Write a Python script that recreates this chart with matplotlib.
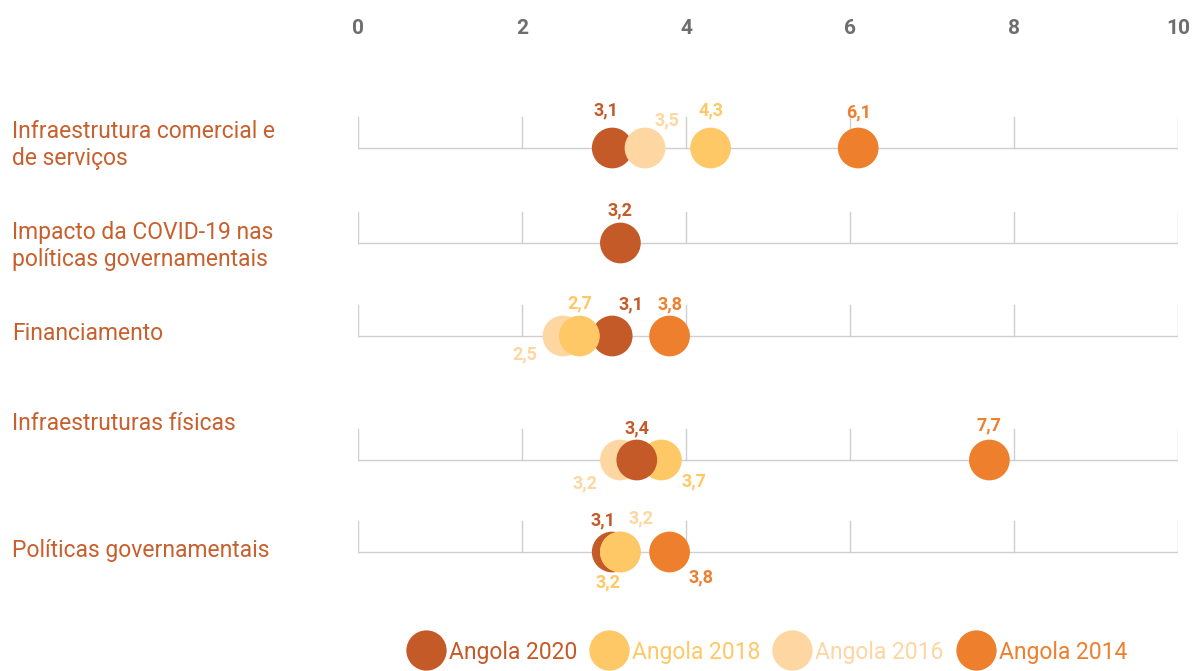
import matplotlib.pyplot as plt
from matplotlib.lines import Line2D

plt.rcParams['font.family'] = ['Roboto', 'DejaVu Sans']

# Datos
categorias = [
    "Infraestrutura comercial e\nde serviços",
    "Impacto da COVID-19 nas\npolíticas governamentais",
    "Financiamento",
    "Infraestruturas físicas",
    "Políticas governamentais",
]
series = ["Angola 2020", "Angola 2018", "Angola 2016", "Angola 2014"]
v2020 = [3.1, 3.2, 3.1, 3.4, 3.1]
v2018 = [4.3, None, 2.7, 3.7, 3.2]
v2016 = [3.5, None, 2.5, 3.2, 3.2]
v2014 = [6.1, None, 3.8, 7.7, 3.8]
ticks = [0, 2, 4, 6, 8, 10]

# Estilo
cores = {"Angola 2020": "#C45A27", "Angola 2018": "#FEC866",
         "Angola 2016": "#FDD6A1", "Angola 2014": "#EE7F2D"}
cor_cat = "#C8602E"
valores = {"Angola 2020": v2020, "Angola 2018": v2018,
           "Angola 2016": v2016, "Angola 2014": v2014}

# ordem de desenho por linha (o último fica à frente)
ordens = [
    ["Angola 2014", "Angola 2018", "Angola 2020", "Angola 2016"],
    ["Angola 2020"],
    ["Angola 2014", "Angola 2020", "Angola 2016", "Angola 2018"],
    ["Angola 2014", "Angola 2016", "Angola 2018", "Angola 2020"],
    ["Angola 2014", "Angola 2020", "Angola 2016", "Angola 2018"],
]

# posição vertical das linhas (pixels desde o topo)
linha_y = [148, 243, 336, 460, 552]
cat_dy = [-3, 3, -2, -36, -2]

# deslocamento das etiquetas (pixels) por linha e série
desloc = [
    {"Angola 2020": (-6, -38), "Angola 2016": (22, -28), "Angola 2018": (0, -38), "Angola 2014": (0, -36)},
    {"Angola 2020": (0, -33)},
    {"Angola 2016": (-38, 18), "Angola 2018": (0, -33), "Angola 2020": (19, -32), "Angola 2014": (0, -32)},
    {"Angola 2020": (0, -32), "Angola 2016": (-35, 23), "Angola 2018": (33, 21), "Angola 2014": (0, -35)},
    {"Angola 2020": (-9, -32), "Angola 2016": (21, -34), "Angola 2018": (-12, 30), "Angola 2014": (31, 25)},
]

fig = plt.figure(figsize=(12.04, 6.71), dpi=100)
ax = fig.add_axes([358 / 1204, 0, 820 / 1204, 1])
ax.set_xlim(0, 10)
ax.set_ylim(671, 0)
ax.axis('off')

# escala no topo
for t in ticks:
    ax.text(t, 28, str(t), ha='center', va='center', fontsize=15,
            fontweight='bold', color='#6E6E6E')

for i, y in enumerate(linha_y):
    ax.plot([0, 10], [y, y], color='#CFCFCF', lw=1, zorder=1)
    for t in ticks:
        ax.plot([t, t], [y - 31, y], color='#CFCFCF', lw=1, zorder=1)
    fig.text(12 / 1204, 1 - (y + cat_dy[i]) / 671, categorias[i], ha='left',
             va='center', fontsize=16.5, color=cor_cat, linespacing=1.2)
    for s in ordens[i]:
        v = valores[s][i]
        if v is None:
            continue
        ax.scatter(v, y, s=860, color=cores[s], edgecolors='none', zorder=3)
        dx, dy = desloc[i][s]
        ax.annotate(f"{v:.1f}".replace('.', ','), (v, y),
                    xytext=(dx * 0.72, -dy * 0.72), textcoords='offset points',
                    ha='center', va='center', fontsize=13, fontweight='bold',
                    color=cores[s], zorder=4)

# Legenda
handles = [Line2D([], [], marker='o', linestyle='none', markersize=29,
                  markerfacecolor=cores[s], markeredgecolor='none') for s in series]
leg = fig.legend(handles, series, loc='center', bbox_to_anchor=(766 / 1204, 1 - 652 / 671),
                 ncol=4, frameon=False, fontsize=16.5, handletextpad=0.1,
                 columnspacing=0.5, handlelength=1.8)
for txt, s in zip(leg.get_texts(), series):
    txt.set_color(cores[s])

fig.savefig('out.png', dpi=100)
